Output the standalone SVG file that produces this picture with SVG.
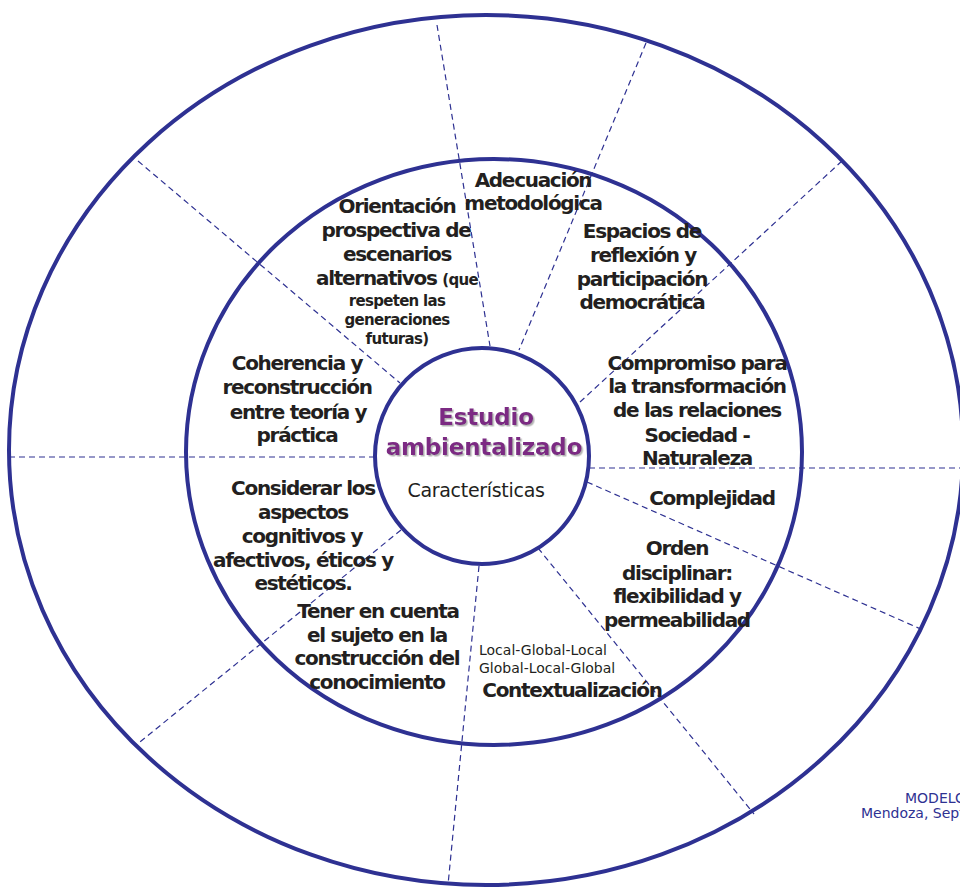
<svg xmlns="http://www.w3.org/2000/svg" width="960" height="887" viewBox="0 0 960 887">
<defs>
<style>
.ring{fill:none;stroke:#2e3192;stroke-width:4}
.dash{fill:none;stroke:#2e3192;stroke-width:1.2;stroke-dasharray:6 4}
.b{font-family:"DejaVu Sans",Verdana,sans-serif;font-weight:bold;font-size:20px;letter-spacing:-1.3px;fill:#231f20;text-anchor:middle}
.s{font-size:15px;letter-spacing:-0.7px}
.r{font-family:"DejaVu Sans",Verdana,sans-serif;font-size:14px;fill:#231f20}
.title{font-family:"DejaVu Sans",Verdana,sans-serif;font-weight:bold;font-size:23px;letter-spacing:-0.2px;fill:#7b2a83;text-anchor:middle}
.foot{font-family:"DejaVu Sans",Verdana,sans-serif;font-size:14px;fill:#2e3192}
</style>
<filter id="sh" x="-10%" y="-20%" width="120%" height="140%">
<feDropShadow dx="1.5" dy="1.5" stdDeviation="0.3" flood-color="#b4b4b4" flood-opacity="1"/>
</filter>
</defs>
<rect width="960" height="887" fill="#ffffff"/>
<g id="rings">
<ellipse class="ring" cx="486" cy="450" rx="477" ry="435"/>
<ellipse class="ring" cx="494" cy="452" rx="308" ry="293"/>
</g>
<g id="connectors">
<line class="dash" x1="437" y1="25" x2="490" y2="346"/>
<line class="dash" x1="646" y1="43" x2="519" y2="350"/>
<line class="dash" x1="842" y1="161" x2="580" y2="402"/>
<line class="dash" x1="589" y1="468" x2="960" y2="468"/>
<line class="dash" x1="587" y1="482" x2="923" y2="630"/>
<line class="dash" x1="538" y1="548" x2="754" y2="814"/>
<line class="dash" x1="479" y1="566" x2="448" y2="885"/>
<line class="dash" x1="401" y1="530" x2="135" y2="746"/>
<line class="dash" x1="9" y1="457" x2="375" y2="457"/>
<line class="dash" x1="138" y1="161" x2="400" y2="383"/>
</g>
<g id="center">
<ellipse cx="482" cy="456" rx="107" ry="108" fill="#ffffff" stroke="#2e3192" stroke-width="4"/>
<g filter="url(#sh)">
<text class="title" x="486" y="425">Estudio</text>
<text class="title" x="484" y="455">ambientalizado</text>
</g>
<text class="r" x="476" y="497" style="font-size:19px;letter-spacing:-0.3px;text-anchor:middle">Características</text>
</g>
<g id="adecuacion">
<text class="b" x="533" y="187">Adecuación</text>
<text class="b" x="533" y="210">metodológica</text>
</g>
<g id="orientacion">
<text class="b" x="397" y="213">Orientación</text>
<text class="b" x="396" y="237">prospectiva de</text>
<text class="b" x="397" y="261">escenarios</text>
<text class="b" x="397" y="285">alternativos <tspan class="s">(que</tspan></text>
<text class="b s" x="397" y="306">respeten las</text>
<text class="b s" x="397" y="325">generaciones</text>
<text class="b s" x="397" y="344">futuras)</text>
</g>
<g id="espacios">
<text class="b" x="642" y="238">Espacios de</text>
<text class="b" x="643" y="262">reflexión y</text>
<text class="b" x="642" y="286">participación</text>
<text class="b" x="642" y="309">democrática</text>
</g>
<g id="compromiso">
<text class="b" x="697" y="370">Compromiso para</text>
<text class="b" x="697" y="393">la transformación</text>
<text class="b" x="697" y="417">de las relaciones</text>
<text class="b" x="697" y="442">Sociedad -</text>
<text class="b" x="697" y="465">Naturaleza</text>
</g>
<g id="complejidad">
<text class="b" x="712" y="505">Complejidad</text>
</g>
<g id="orden">
<text class="b" x="677" y="555">Orden</text>
<text class="b" x="677" y="580">disciplinar:</text>
<text class="b" x="677" y="603">flexibilidad y</text>
<text class="b" x="677" y="627">permeabilidad</text>
</g>
<g id="contextualizacion">
<text class="r" x="479" y="655">Local-Global-Local</text>
<text class="r" x="479" y="673">Global-Local-Global</text>
<text class="b" x="572" y="697">Contextualización</text>
</g>
<g id="sujeto">
<text class="b" x="378" y="618">Tener en cuenta</text>
<text class="b" x="377" y="642">el sujeto en la</text>
<text class="b" x="377" y="665">construcción del</text>
<text class="b" x="377" y="689">conocimiento</text>
</g>
<g id="considerar">
<text class="b" x="303" y="495">Considerar los</text>
<text class="b" x="303" y="519">aspectos</text>
<text class="b" x="302" y="543">cognitivos y</text>
<text class="b" x="303" y="567">afectivos, éticos y</text>
<text class="b" x="303" y="590">estéticos.</text>
</g>
<g id="coherencia">
<text class="b" x="297" y="370">Coherencia y</text>
<text class="b" x="297" y="394">reconstrucción</text>
<text class="b" x="298" y="419">entre teoría y</text>
<text class="b" x="297" y="442">práctica</text>
</g>
<g id="footer">
<text class="foot" x="905" y="803">MODELO</text>
<text class="foot" x="861" y="818">Mendoza, Sept</text>
</g>
</svg>
